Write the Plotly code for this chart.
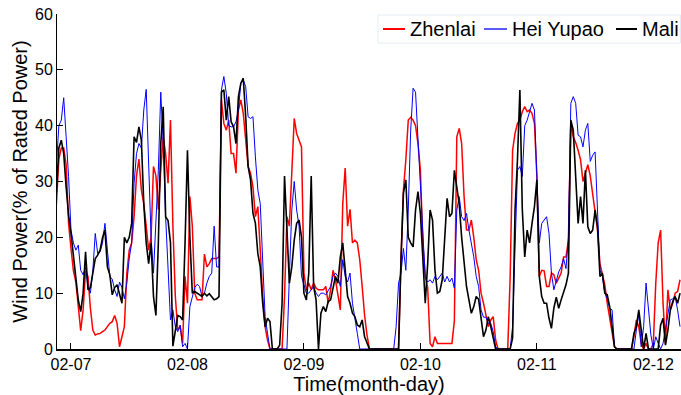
import plotly.graph_objects as go
import pandas as pd

# Half-hourly wind power (% of rated power), starting 02-06 21:00
zhenlai = [
    26, 34, 36, 36, 33, 22.5, 18, 14, 12, 8, 3.3, 7, 14, 13, 7.3, 3.4, 2.5, 2.7, 2.8, 3.1, 3.4, 4, 4.6, 4.9,
    6, 4.6, 0.4, 2.2, 4, 13.5, 17.7, 19, 23.7, 31, 34, 28.5, 26, 22, 17.7, 20, 32.7, 31, 25, 32, 38, 35, 29.7, 41,
    22, 9.4, 3.4, 4, 1, 13, 8.2, 27.3, 22, 10, 8.8, 8.8, 8.8, 17, 14.7, 15.3, 16.2, 16.2, 16.2, 16.5, 44.6, 40.4, 39.2, 41,
    35, 35, 31.5, 42.8, 44.6, 42.2, 37.4, 32.7, 31.5, 29, 23.7, 25.5, 17.7, 9.4, 4, 1.6, 0, 0, 0, 0, 0, 0, 9.4, 23.7,
    22, 33.3, 41.3, 38.6, 37.4, 36.2, 13.6, 10.6, 11.8, 10.6, 11.8, 10.9, 10.6, 10.6, 10.6, 11.2, 8.2, 10.6, 14.1, 12.4, 10, 7, 26, 32.4,
    22, 25, 19, 19.5, 19, 16, 11.2, 6, 2.5, 0, 0, 0, 0, 0, 0, 0, 0, 0, 0, 0, 0, 0, 16, 28.5,
    33.9, 41, 41.5, 41, 40, 36.8, 32, 19, 13, 11, 1, 0.4, 2.2, 1, 1, 1, 1, 1, 1, 1, 5, 38, 39.5, 36.8,
    27.3, 21.3, 21.3, 23.1, 20, 16, 14.1, 10, 8.2, 5.8, 4, 5.2, 5.8, 1.6, 0, 0, 0, 0, 0, 13, 35.6, 38.6, 40.4, 41,
    42.5, 43.4, 42.5, 42.8, 42.2, 40.4, 31, 13, 14.1, 14, 11.2, 11.2, 13.6, 13.3, 11.8, 12.7, 13.6, 16.5, 16.5, 19.5, 40.7, 38, 37, 35.6,
    33.9, 30, 31.5, 33, 31, 27.9, 24.9, 21.3, 15.3, 13.3, 11.5, 8.2, 5.8, 2.8, 0.4, 0, 0, 0, 0, 0, 0, 0, 2.2, 5.2,
    4, 1, 0, 1, 0, 0, 1, 11.8, 19, 21.3, 8.2, 1, 10.6, 7, 8.2, 10, 10.3, 12.4,
]

hei_yupao = [
    33, 40, 41, 45, 38, 30.9, 21.3, 19, 17.7, 18.6, 14.1, 13.3, 14.7, 11.2, 10, 14.1, 20.7, 17.1, 17.4, 19, 22.5, 17.1, 13, 12.5,
    10.6, 9.4, 12, 11, 9, 11.8, 16.2, 19, 29.7, 35, 36.8, 36, 42.8, 46.5, 34.4, 20, 13.6, 22.5, 32, 46, 36.8, 23.7, 14.1, 5.2,
    7, 4, 3.1, 4.3, 0.4, 1, 0, 7.6, 9.3, 11, 11.6, 11.2, 9.4, 10, 11.8, 13, 13.6, 22, 14.7, 14.7, 46.4, 48.8, 45.8, 40,
    39.8, 39.8, 40.7, 42.8, 47.6, 48.2, 47, 41.6, 41.3, 41.6, 34.4, 28.5, 26, 14.1, 5.8, 2.8, 0, 0, 0, 0, 0, 0, 0, 0,
    13, 24.9, 30, 24.9, 22, 13, 11.5, 10, 10, 10.6, 11.2, 10, 9.4, 10, 10, 9.7, 10.6, 11.2, 13, 13.6, 13, 11.2, 16, 13,
    12, 13.6, 8.2, 5.8, 2.8, 0, 0, 0, 0, 0, 0, 0, 0, 0, 0, 0, 0, 0, 0, 0, 4, 11.8, 13.6, 18,
    14.1, 24.9, 39.2, 46.7, 46, 38, 30.3, 21.6, 12.7, 12, 12.4, 11.8, 13, 12.4, 13, 13.6, 12, 13, 12, 12.7, 10.9, 24.9, 27.3, 23.7,
    23, 24.3, 21.3, 19.2, 16.5, 13, 11.2, 7, 5.7, 5.7, 4.6, 4.6, 3.1, 0.4, 0, 0, 0, 0, 0, 0, 4, 19, 32, 32.7,
    30.9, 40, 41, 42.5, 44, 42.8, 31, 19, 22.5, 23, 23.7, 20.7, 13.6, 10.6, 12.4, 13.8, 14.7, 16.2, 14.4, 20, 44, 45.2, 44, 38.3,
    38, 36.2, 39.2, 40.4, 33.6, 34.7, 35.3, 23.7, 14.1, 13, 10, 9, 7.3, 7, 0.4, 0, 0, 0, 0, 0, 0, 0, 0, 3.4,
    6.4, 0.4, 4, 11.8, 6.7, 2.5, 0, 2.2, 1, 0, 1, 3.4, 5.8, 8.8, 9, 9.4, 7, 4,
]

mali = [
    28, 36, 37.4, 35, 29, 24, 20.7, 16.5, 13.3, 8.8, 6.7, 10, 17.4, 10.6, 11, 13.8, 16.2, 16.8, 17.7, 20, 21.3, 14.7, 13.3, 9.7,
    11, 11.5, 9.7, 8.2, 20, 19, 20, 22.5, 38, 37, 39.8, 37.4, 26, 19, 15.3, 19, 9.4, 6, 19, 36.8, 43.4, 23.7, 23, 19,
    0.5, 3.7, 6, 5.8, 5.2, 19, 35.6, 20, 10, 10.3, 10, 9.7, 9.4, 10, 9.5, 9.9, 9.4, 8.8, 9, 9.4, 46, 46.4, 41, 45.2,
    40.7, 39.8, 36.8, 45.2, 47.6, 48.5, 41.6, 32.7, 30.3, 24.3, 22.5, 17.1, 14.7, 8.2, 4, 5.5, 4.9, 0, 0, 0, 0.7, 8.2, 31, 21.3,
    11.8, 14.7, 19.5, 22.5, 23.1, 20, 10, 8.8, 13.6, 31, 11.2, 8.8, 0, 6.4, 7.6, 6.7, 8.5, 8.8, 11.2, 13, 11.8, 16.5, 19, 13.6,
    9.4, 8.2, 6.4, 5.8, 4.3, 4, 5.2, 2.2, 1, 0, 0, 0, 0, 0, 0, 0, 0, 0, 0, 0, 0, 0, 16, 27.9,
    30.3, 20, 19, 18.3, 24.9, 28.2, 24.3, 16, 8.2, 15.3, 24.9, 23.1, 14.1, 10, 10.3, 12.4, 20, 27, 23.7, 24.3, 32, 29, 26, 20,
    16, 11.2, 8.8, 6.4, 7.6, 9.4, 8.9, 5.2, 2.2, 3.4, 5.8, 4, 1.9, 0, 0, 0, 0, 0, 0, 0, 2, 24.9, 33.9, 46.4,
    25, 16.5, 21.3, 19, 22.5, 25.5, 30.3, 13, 9.4, 8.2, 8.2, 5.5, 3.7, 7.3, 9.3, 7.3, 8.8, 10.1, 11.5, 13.6, 41, 39.2, 30.9, 22.5,
    27.3, 22.5, 32, 21.9, 20.7, 21.3, 24.9, 21.9, 13, 13.6, 10, 9.7, 7.6, 4, 0.4, 0, 0, 0, 0, 0, 0, 0, 2.8, 4,
    7, 3.4, 0, 2.8, 0, 0, 0, 0, 0, 4.3, 5.5, 0.7, 3.4, 7, 8.5, 9.4, 8.2, 10,
]

series_names = ["Zhenlai", "Hei Yupao", "Mali"]
tick_days = ["2015-02-07", "2015-02-08", "2015-02-09", "2015-02-10", "2015-02-11", "2015-02-12"]
tick_labels = ["02-07", "02-08", "02-09", "02-10", "02-11", "02-12"]

times = pd.date_range("2015-02-06 21:00", periods=len(zhenlai), freq="30min")

FONT = "Liberation Sans, Arial, sans-serif"
colors = ["#ff0000", "#0000ff", "#000000"]
widths = [1.5, 1.0, 1.6]

fig = go.Figure()
for name, vals, col, w in zip(series_names, [zhenlai, hei_yupao, mali], colors, widths):
    fig.add_trace(go.Scatter(x=times[:len(vals)], y=vals, mode="lines", name=name,
                             line=dict(color=col, width=w), showlegend=False))

# Legend drawn in paper coordinates (plot area: x 57..681 px, y 14..349 px)
W, H, L, T = 624.0, 335.0, 57.0, 14.0
px = lambda x: (x - L) / W
py = lambda y: (T + H - y) / H

shapes = [dict(type="rect", xref="paper", yref="paper",
               x0=px(378), x1=px(680.5), y0=py(43), y1=py(15),
               line=dict(color="#e6ecf6", width=1), fillcolor="white", layer="above")]
annotations = []
legend_pos = [(383, 405, 408), (484, 507, 510), (616, 637, 640)]
for name, col, (l0, l1, tx) in zip(series_names, colors, legend_pos):
    shapes.append(dict(type="line", xref="paper", yref="paper",
                       x0=px(l0), x1=px(l1), y0=py(29), y1=py(29),
                       line=dict(color=col, width=2 if col != "#0000ff" else 1.3),
                       layer="above"))
    annotations.append(dict(xref="paper", yref="paper", x=px(tx), y=py(29.5),
                            xanchor="left", yanchor="middle", showarrow=False,
                            text=name, font=dict(size=20, family=FONT, color="black")))

fig.update_layout(
    width=681, height=395,
    margin=dict(l=57, r=0, t=14, b=46),
    paper_bgcolor="white", plot_bgcolor="white",
    font=dict(family=FONT, size=16, color="black"),
    showlegend=False,
    shapes=shapes, annotations=annotations,
)
fig.update_xaxes(
    range=["2015-02-06 21:07", "2015-02-12 05:42"],
    tickvals=tick_days, ticktext=tick_labels,
    ticks="inside", ticklen=6, tickcolor="black", tickwidth=1,
    showline=True, linecolor="black", linewidth=1.5,
    showgrid=False, zeroline=False, automargin=False,
    tickfont=dict(size=16),
    title=dict(text="Time(month-day)", font=dict(size=20), standoff=2),
)
fig.update_yaxes(
    range=[0, 60], tickvals=[0, 10, 20, 30, 40, 50, 60],
    ticks="inside", ticklen=6, tickcolor="black", tickwidth=1,
    showline=True, linecolor="black", linewidth=1,
    showgrid=False, zeroline=False, automargin=False,
    tickfont=dict(size=16),
    title=dict(text="Wind Power(% of Rated Power)", font=dict(size=20), standoff=2),
)

fig.write_html("out.html", config={"displayModeBar": False},
               post_script="document.body.style.margin='0';document.body.style.overflow='hidden';")
